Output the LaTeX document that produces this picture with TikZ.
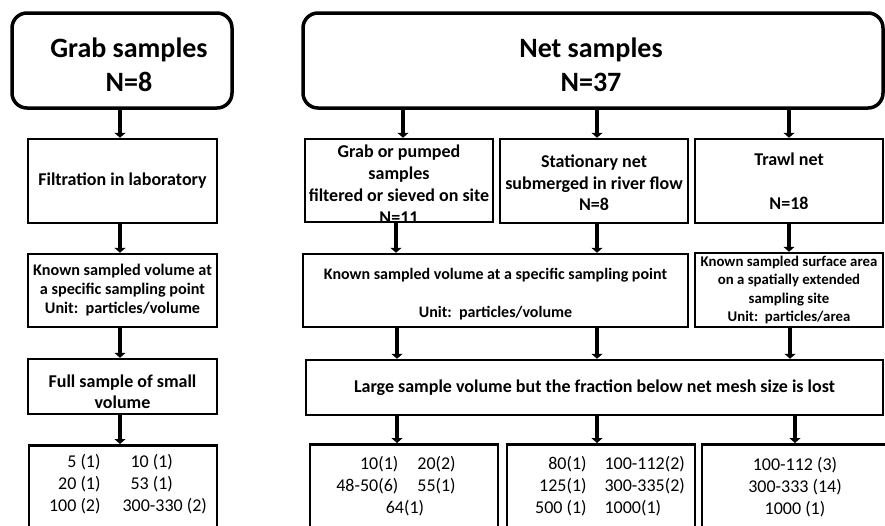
\documentclass[tikz,border=0pt]{standalone}
\usepackage{fontspec}
\setmainfont{Carlito}
\usetikzlibrary{arrows.meta,calc}
\begin{document}
\begin{tikzpicture}[x=1pt,y=-1pt,
  box/.style={draw, line width=2.5pt, inner sep=0pt, align=center, font=\bfseries\fontsize{18}{22}\selectfont},
  head/.style={draw, line width=3.5pt, rounded corners=15pt, inner sep=0pt},
  headtxt/.style={inner sep=0pt, align=center, font=\bfseries\fontsize{28}{34}\selectfont},
  arr/.style={line width=4pt, -{Triangle[width=11pt,length=5pt]}},
  txt/.style={inner sep=0pt, align=center},
  nums/.style={inner sep=0pt, font=\fontsize{18}{22}\selectfont}
]
\useasboundingbox (0,0) rectangle (885,525);
\clip (0,0) rectangle (885,525);
% header boxes
\node[head, minimum width=220pt, minimum height=95pt] (grab) at (122,60.5) {};
\node[headtxt] (grabt) at (129,65) {Grab samples\\N=8};
\node[head, minimum width=580pt, minimum height=95pt] (net) at (593,60.5) {};
\node[headtxt] (nett) at (591,64.5) {Net samples\\N=37};
% left column
\node[box, minimum width=189pt, minimum height=84pt] (filt) at (122.5,181) {Filtration in laboratory};
\node[box, minimum width=189pt, minimum height=73pt, font=\bfseries\fontsize{16.2}{19}\selectfont] (lknown) at (122.5,290.5) {Known sampled volume at\\a specific sampling point\\Unit:\ \ particles/volume};
\node[box, minimum width=189pt, minimum height=55pt] (full) at (122.5,386.5) {};
\node[txt, font=\bfseries\fontsize{18}{21}\selectfont] (fullt) at (122.5,391.5) {Full sample of small\\volume};
\node[box, anchor=north, minimum width=188pt, minimum height=120pt] (lbot) at (123,444) {};
% net sub boxes
\node[box, minimum width=188pt, minimum height=83pt] (b1) at (399,180.5) {};
\node[txt, font=\bfseries\fontsize{18}{22}\selectfont] (b1t) at (399,184) {Grab or pumped\\samples\\filtered or sieved on site\\N=11};
\node[box, minimum width=188pt, minimum height=84pt] (b2) at (594,181) {};
\node[txt, font=\bfseries\fontsize{18}{21.5}\selectfont] (b2t) at (594,183) {Stationary net\\submerged in river flow\\N=8};
\node[box, minimum width=188pt, minimum height=84pt, font=\bfseries\fontsize{18}{22}\selectfont] (b3) at (789,181) {Trawl net\\[22pt]N=18};
% known row
\node[box, minimum width=385pt, minimum height=73pt] (nknown) at (495.5,290.5) {};
\node[txt, font=\bfseries\fontsize{16}{19}\selectfont] (nknownt) at (495.5,294) {Known sampled volume at a specific sampling point\\[19pt]Unit:\ \ particles/volume};
\node[box, minimum width=188pt, minimum height=74pt, font=\bfseries\fontsize{14.8}{18.5}\selectfont] (tknown) at (789,290) {Known sampled surface area\\on a spatially extended\\sampling site\\Unit:\ \ particles/area};
% large
\node[box, minimum width=577pt, minimum height=55pt] (large) at (594.5,387.5) {Large sample volume but the fraction below net mesh size is lost};
% bottom boxes
\node[box, anchor=north, minimum width=188pt, minimum height=120pt] (bot1) at (404,443) {};
\node[box, anchor=north, minimum width=188pt, minimum height=120pt] (bot2) at (601,443) {};
\node[box, anchor=north, minimum width=186pt, minimum height=120pt] (bot3) at (795,443) {};
% numbers
\node[nums] (lbott) at (128,485) {\begin{tabular}{@{}r@{\hspace{30pt}}l@{}}5 (1) & 10 (1)\\20 (1) & 53 (1)\\100 (2) & \hspace{-8pt}300-330 (2)\end{tabular}};
\node[nums] (bot1t) at (396,487) {\begin{tabular}{@{}r@{\hspace{19pt}}l@{}}10(1) & 20(2)\\48-50(6) & 55(1)\\\multicolumn{2}{@{}c@{}}{\hspace{18pt}64(1)}\end{tabular}};
\node[nums] (bot2t) at (610,487) {\begin{tabular}{@{}r@{\hspace{18pt}}l@{}}80(1) & 100-112(2)\\125(1) & 300-335(2)\\500 (1) & 1000(1)\end{tabular}};
\node[nums, align=center] (bot3t) at (795,487) {100-112 (3)\\300-333 (14)\\1000 (1)};
% arrow x positions
\coordinate (xl) at (120,0);
\coordinate (xa) at (403,0);
\coordinate (xb) at (597,0);
\coordinate (xc) at (789,0);
\coordinate (xd) at (396,0);
\coordinate (xe) at (397,0);
\coordinate (xf) at (790,0);
\coordinate (xg) at (795,0);
% arrows left
\draw[arr] (grab.south -| xl) -- (filt.north -| xl);
\draw[arr] (filt.south -| xl) -- (lknown.north -| xl);
\draw[arr] (lknown.south -| xl) -- (full.north -| xl);
\draw[arr] (full.south -| xl) -- (lbot.north -| xl);
% arrows net
\draw[arr] (net.south -| xa) -- (b1.north -| xa);
\draw[arr] (net.south -| xb) -- (b2.north -| xb);
\draw[arr] (net.south -| xc) -- (b3.north -| xc);
\draw[arr] (b1.south -| xd) -- (nknown.north -| xd);
\draw[arr] (b2.south -| xb) -- (nknown.north -| xb);
\draw[arr] (b3.south -| xc) -- (tknown.north -| xc);
\draw[arr] (nknown.south -| xe) -- (large.north -| xe);
\draw[arr] (nknown.south -| xb) -- (large.north -| xb);
\draw[arr] (tknown.south -| xf) -- (large.north -| xf);
\draw[arr] (large.south -| xe) -- (bot1.north -| xe);
\draw[arr] (large.south -| xb) -- (bot2.north -| xb);
\draw[arr] (large.south -| xg) -- (bot3.north -| xg);
\end{tikzpicture}
\end{document}
